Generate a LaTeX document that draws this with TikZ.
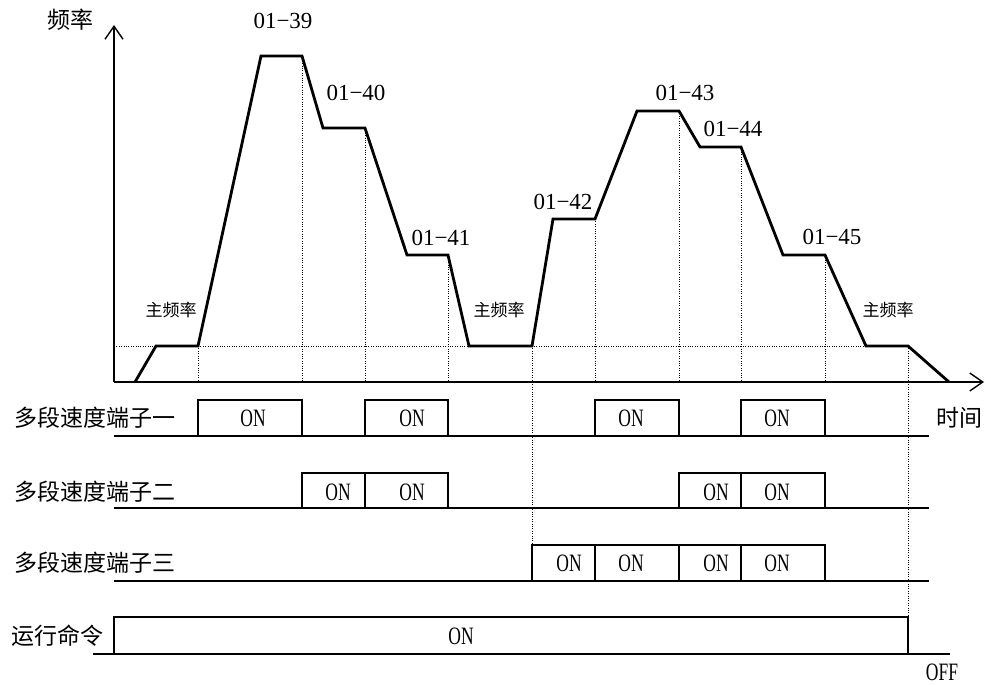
\documentclass[tikz,border=0pt]{standalone}
\usepackage{fontspec}
\usepackage{tikz}
\usetikzlibrary{arrows.meta,positioning,calc}
\setmainfont{Liberation Serif}
\newfontfamily\cjk{Noto Sans CJK SC}
\newfontfamily\narrowfont[FakeStretch=0.7]{Liberation Serif}
\tikzset{
    axis/.style={
        line width=1.6pt,
        -{Straight Barb[length=13pt,width=18pt,line width=1.4pt]}
    },
    freqcurve/.style={
        line width=2.8pt,
        line join=miter
    },
    guide/.style={
        line width=0.9pt,
        dash pattern=on 1pt off 1.4pt
    },
    signal/.style={
        line width=1.6pt
    },
    steplabel/.style={
        font=\fontsize{23}{26}\selectfont
    },
    cjklabel/.style={
        font=\cjk\fontsize{23}{26}\selectfont
    },
    mainlabel/.style={
        font=\cjk\fontsize{17}{20}\selectfont
    },
    onlabel/.style={
        font=\narrowfont\fontsize{25}{28}\selectfont
    }
}

\begin{document}
\begin{tikzpicture}[x=1pt,y=-1pt]
    \useasboundingbox (0,0) rectangle (985,685);

    % Guide lines
    \draw[guide] (114,346) -- (908,346);
    \foreach \gx/\gy in {198/346, 302/56, 365/128, 448/255, 595/219, 679/111, 741/147, 825/255}
        \draw[guide] (\gx,\gy) -- (\gx,382);
    \draw[guide] (532,346) -- (532,545);
    \draw[guide] (908,346) -- (908,617);

    % Frequency curve
    \draw[freqcurve] (135,382) -- (156,346) -- (198,346) -- (261,56) -- (302,56)
        -- (323,128) -- (365,128) -- (407,255) -- (448,255) -- (469,346)
        -- (532,346) -- (553,219) -- (595,219) -- (637,111) -- (679,111)
        -- (700,147) -- (741,147) -- (783,255) -- (825,255) -- (866,346)
        -- (908,346) -- (949,382);

    % Axes
    \draw[axis] (114,382) -- (114,25);
    \draw[axis] (114,382) -- (984,382);
    \node[cjklabel] (freq) at (70,20) {频率};
    \node[cjklabel] (time) at (959,418) {时间};

    % Step labels
    \node[steplabel] (s39) at (283,21) {01−39};
    \node[steplabel] (s40) at (356,93) {01−40};
    \node[steplabel] (s41) at (441,238) {01−41};
    \node[steplabel] (s42) at (563,202) {01−42};
    \node[steplabel] (s43) at (685,93) {01−43};
    \node[steplabel] (s44) at (733,129) {01−44};
    \node[steplabel] (s45) at (832,237) {01−45};
    \node[mainlabel] (main1) at (171,310) {主频率};
    \node[mainlabel] (main2) at (499,310) {主频率};
    \node[mainlabel] (main3) at (888,310) {主频率};

    % Terminal rows
    \node[cjklabel] (term1) at (95,418) {多段速度端子一};
    \node[cjklabel] (term2) at (95,492) {多段速度端子二};
    \node[cjklabel] (term3) at (95,563) {多段速度端子三};
    \node[cjklabel] (run) at (58,636) {运行命令};
    \draw[signal] (114,436) -- (929,436);
    \draw[signal] (114,508) -- (929,508);
    \draw[signal] (114,581) -- (929,581);
    \draw[signal] (93,654) -- (950,654);

    \foreach \a/\b/\c in {198/302/253, 365/448/412, 595/679/631, 741/825/777} {
        \draw[signal] (\a,436) -- (\a,400) -- (\b,400) -- (\b,436);
        \node[onlabel] (on1-\c) at (\c,418) {ON};
    }
    \foreach \a/\b/\c in {302/365/338, 365/448/412, 679/741/716, 741/825/777} {
        \draw[signal] (\a,508) -- (\a,473) -- (\b,473) -- (\b,508);
        \node[onlabel] (on2-\c) at (\c,492) {ON};
    }
    \foreach \a/\b/\c in {532/595/569, 595/679/631, 679/741/716, 741/825/777} {
        \draw[signal] (\a,581) -- (\a,545) -- (\b,545) -- (\b,581);
        \node[onlabel] (on3-\c) at (\c,563) {ON};
    }
    \draw[signal] (114,654) -- (114,617) -- (908,617) -- (908,654);
    \node[onlabel] (onrun) at (461,636) {ON};
    \node[onlabel] (off) at (942,672) {OFF};
\end{tikzpicture}
\end{document}
